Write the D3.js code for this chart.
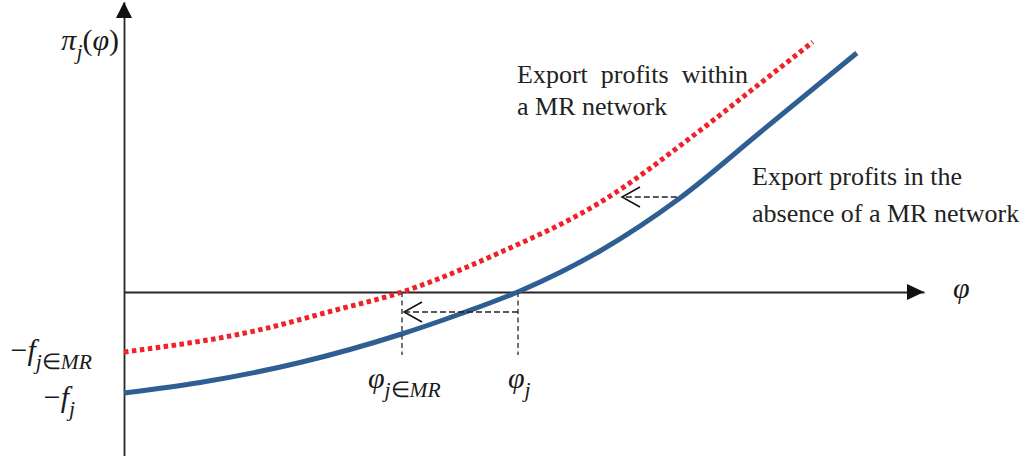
<!DOCTYPE html>
<html><head><meta charset="utf-8">
<script src="https://cdn.jsdelivr.net/npm/d3@7"></script>
<style>
body{margin:0;background:#fff;}
svg{display:block;}
.math{font-family:"Liberation Serif","Times New Roman",serif;fill:#1a1a1a;}
.lbl{font-family:"Liberation Serif","Times New Roman",serif;fill:#222;font-size:26px;}
</style></head><body>
<svg id="c" width="1025" height="456"></svg>
<script>
// ---- data ----
const phiBlue = [0, 0.95, 2.2, 3.45, 4.2, 4.95, 5.95, 6.95, 7.95, 9.16];
const piBlue  = [-2.02, -1.81, -1.41, -0.85, -0.44, 0.02, 0.82, 1.88, 3.19, 4.78];
const phiRed  = [0, 1.66, 2.575, 3.475, 4.7, 5.95, 7.2, 7.95, 8.61];
const piRed   = [-1.2, -0.77, -0.39, 0, 0.79, 1.79, 3.23, 4.17, 5.0];
const seriesLabels = [["Export profits in the", "absence of a MR network"], ["Export profits within", "a MR network"]];
const cutoffPhi = [4.925, 3.475];      // φ_j , φ_{j∈MR}
const interceptPi = [-2.02, -1.2];     // −f_j , −f_{j∈MR}
const guideBottomPi = -1.26;
const lowerArrowPi = -0.4;
const upperArrow = {pi: 1.9, from: 6.91, to: 6.2};

// ---- scales ----
const svg = d3.select("#c");
const x = d3.scaleLinear().domain([0, 10]).range([124, 924]);
const y = d3.scaleLinear().domain([-3.28, 5.8]).range([456, 2]);

const ink = "#262626";

// axes (no ticks)
svg.append("g").attr("transform", `translate(0,${y(0)})`)
  .call(d3.axisBottom(x).tickValues([]).tickSizeOuter(0))
  .call(g => g.select(".domain").attr("stroke", ink).attr("stroke-width", 1.8));
svg.append("g").attr("transform", `translate(${x(0)},0)`)
  .call(d3.axisLeft(y).tickValues([]).tickSizeOuter(0))
  .call(g => g.select(".domain").attr("stroke", ink).attr("stroke-width", 1.8));

// arrow heads on axes
svg.append("path").attr("fill", "#111")
  .attr("d", `M${x(10)},${y(0)} L${x(10)-17},${y(0)-8} L${x(10)-17},${y(0)+8} Z`);
svg.append("path").attr("fill", "#111")
  .attr("d", `M${x(0)},${y.range()[1]} L${x(0)-8},${y.range()[1]+16} L${x(0)+8},${y.range()[1]+16} Z`);

// curves
const line = d3.line().x(d => x(d[0])).y(d => y(d[1])).curve(d3.curveMonotoneX);
svg.append("path").datum(d3.zip(phiBlue, piBlue)).attr("d", line)
  .attr("fill", "none").attr("stroke", "#2f5f92").attr("stroke-width", 5);
svg.append("path").datum(d3.zip(phiRed, piRed)).attr("d", line)
  .attr("fill", "none").attr("stroke", "#ee2229").attr("stroke-width", 5)
  .attr("stroke-dasharray", "4.5,3.5");

// guide lines
cutoffPhi.forEach(p => {
  svg.append("line").attr("x1", x(p)).attr("x2", x(p)).attr("y1", y(0)).attr("y2", y(guideBottomPi))
    .attr("stroke", "#444").attr("stroke-width", 1.5).attr("stroke-dasharray", "5,3.5");
});

function dashArrow(fromPhi, toPhi, pi) {
  const yy = y(pi), x1 = x(fromPhi), x2 = x(toPhi) + 2;
  svg.append("line").attr("x1", x1).attr("x2", x2).attr("y1", yy).attr("y2", yy)
    .attr("stroke", "#222").attr("stroke-width", 1.5).attr("stroke-dasharray", "6,3");
  svg.append("path").attr("fill", "none").attr("stroke", "#111").attr("stroke-width", 1.5)
    .attr("d", `M${x2+18},${yy-10} L${x2},${yy} L${x2+18},${yy+10}`);
}
dashArrow(cutoffPhi[0], cutoffPhi[1], lowerArrowPi);
dashArrow(upperArrow.from, upperArrow.to, upperArrow.pi);

// math labels
function math(px, py, parts, size, anchor) {
  const t = svg.append("text").attr("class", "math").attr("x", px).attr("y", py)
    .attr("font-size", size).attr("text-anchor", anchor || "start");
  let cur = 0;
  parts.forEach(p => {
    const off = p.sub ? size * 0.3 : 0;
    t.append("tspan").attr("dy", off - cur)
      .attr("font-size", p.sub ? size * 0.72 : size)
      .style("font-style", p.up ? "normal" : "italic")
      .text(p.t);
    cur = off;
  });
}
math(119, 50, [{t: "π"}, {t: "j", sub: true}, {t: "(", up: true}, {t: "φ"}, {t: ")", up: true}], 30, "end");
math(92, 360, [{t: "−", up: true}, {t: "f"}, {t: "j", sub: true}, {t: "∈", sub: true, up: true}, {t: "MR", sub: true}], 30, "end");
math(75, 407, [{t: "−", up: true}, {t: "f"}, {t: "j", sub: true}], 30, "end");
math(x(cutoffPhi[1]) - 34, 388, [{t: "φ"}, {t: "j", sub: true}, {t: "∈", sub: true, up: true}, {t: "MR", sub: true}], 30, "start");
math(x(cutoffPhi[0]) - 10, 388, [{t: "φ"}, {t: "j", sub: true}], 30, "start");
math(953, 298, [{t: "φ"}], 30, "start");

// series labels
svg.append("text").attr("class", "lbl").attr("x", 517).attr("y", 83).attr("word-spacing", 6.5).text(seriesLabels[1][0]);
svg.append("text").attr("class", "lbl").attr("x", 517).attr("y", 115).text(seriesLabels[1][1]);
svg.append("text").attr("class", "lbl").attr("x", 752).attr("y", 185).text(seriesLabels[0][0]);
svg.append("text").attr("class", "lbl").attr("x", 752).attr("y", 222).text(seriesLabels[0][1]);
</script>
</body></html>
